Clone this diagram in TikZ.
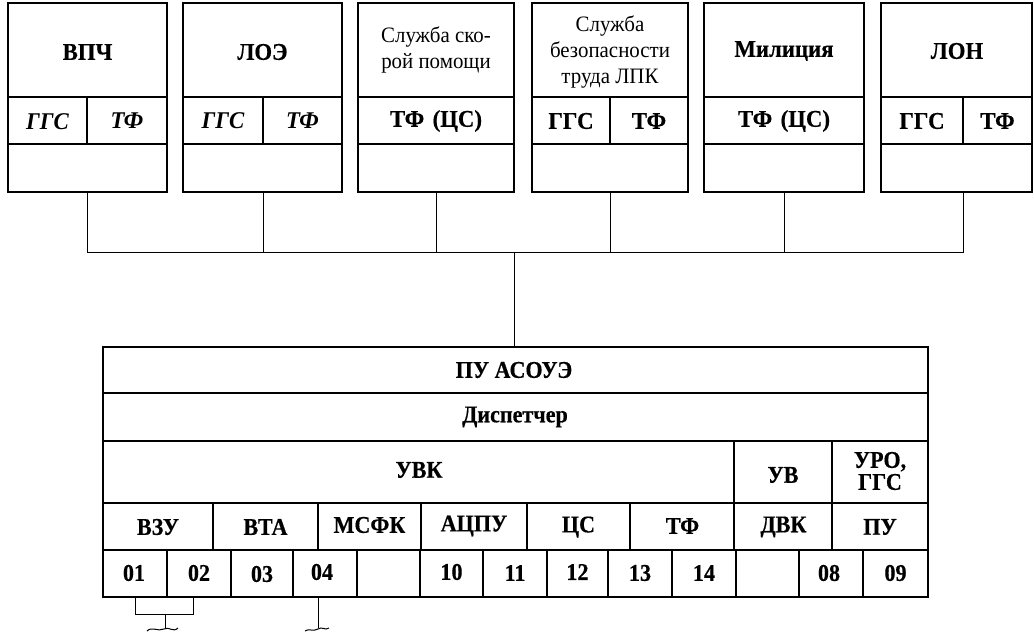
\documentclass[tikz,border=0pt]{standalone}
\usepackage{fontspec}
\setmainfont{Liberation Serif}
\newfontfamily\topf{Liberation Serif}[FakeStretch=0.95, BoldFeatures={FakeBold=0.4}]
\newfontfamily\botf{Liberation Serif}[FakeStretch=0.92, BoldFeatures={FakeBold=0.5}]
\begin{document}
\begin{tikzpicture}[x=1pt,y=-1pt,
  outer/.style={line width=2pt},
  inner/.style={line width=1.5pt},
  wire/.style={line width=1pt},
  lbl/.style={font=\topf\fontsize{24}{26}\selectfont\bfseries, align=center, inner sep=0pt},
  lblr/.style={font=\topf\fontsize{22}{26}\selectfont, align=center, inner sep=0pt},
  lbli/.style={font=\topf\fontsize{24}{26}\selectfont\bfseries\itshape, inner sep=0pt},
  tl/.style={font=\botf\fontsize{24}{24}\selectfont\bfseries, align=center, inner sep=0pt}]
\useasboundingbox (0,0) rectangle (1034,632);
% ---------- top boxes ----------
\foreach \l/\r in {8/167,183/342,358/514,532/688,704/864,881/1032}{
  \draw[outer] (\l,3) rectangle (\r,192);
  \draw[inner] (\l,97) -- (\r,97) (\l,144) -- (\r,144);
}
\foreach \d in {87,263,610,963}{ \draw[inner] (\d,97) -- (\d,144); }
\node[lbl] (n1) at (87.5,52) {ВПЧ};
\node[lbl] (n2) at (262.5,52) {ЛОЭ};
\node[lblr] (n3) at (436,50) {Служба ско-\\рой помощи};
\node[lblr] (n4) at (610,52) {Служба\\безопасности\\труда ЛПК};
\node[lbl] (n5) at (784,51) {Милиция};
\node[lbl] (n6) at (957,51) {ЛОН};
\node[lbli] (g1) at (47.5,122) {ГГС};
\node[lbli] (f1) at (127,121) {ТФ};
\node[lbli] (g2) at (223,121) {ГГС};
\node[lbli] (f2) at (302.5,121) {ТФ};
\node[lbl] (c3) at (436,121) {ТФ\hspace{0.35em}(ЦС)};
\node[lbl] (g4) at (571,121) {ГГС};
\node[lbl] (f4) at (649,121) {ТФ};
\node[lbl] (c5) at (784,121) {ТФ\hspace{0.35em}(ЦС)};
\node[lbl] (g6) at (922,121) {ГГС};
\node[lbl] (f6) at (997.5,121) {ТФ};
% ---------- connectors ----------
\coordinate (b1) at (87,192);
\coordinate (b2) at (263,192);
\coordinate (b3) at (436,192);
\coordinate (b4) at (610,192);
\coordinate (b5) at (784,192);
\coordinate (b6) at (963,192);
\coordinate (bus) at (514,252);
\coordinate (tt) at (514,347);
\draw[wire] (b1) -- (b1 |- bus) -- (b6 |- bus) -- (b6);
\foreach \b in {b2,b3,b4,b5}{ \draw[wire] (\b) -- (\b |- bus); }
\draw[wire] (bus) -- (tt);
% ---------- bottom table ----------
\draw[outer] (103,347) rectangle (928,597);
\foreach \y in {393,441,503,550}{ \draw[inner] (103,\y) -- (928,\y); }
\foreach \x in {734,832}{ \draw[inner] (\x,441) -- (\x,550); }
\foreach \x in {213,318,421,527,630}{ \draw[inner] (\x,503) -- (\x,550); }
\foreach \x in {167,231,293,357,420,483,547,608,672,736,799,863}{ \draw[inner] (\x,550) -- (\x,597); }
\node[tl] (pu) at (514,370) {ПУ АСОУЭ};
\node[tl] (disp) at (515,417) {Диспетчер};
\node[tl] (uvk) at (419,470) {УВК};
\node[tl] (uv) at (783,475) {УВ};
\node[tl, font=\botf\fontsize{24}{22}\selectfont\bfseries] (uro) at (880,471) {УРО,\\ГГС};
\node[tl] (vzu) at (158,527) {ВЗУ};
\node[tl] (vta) at (265.5,527) {ВТА};
\node[tl] (msfk) at (369.5,525) {МСФК};
\node[tl] (acpu) at (474,526) {АЦПУ};
\node[tl] (cs) at (578.5,527) {ЦС};
\node[tl] (tf) at (682.5,526) {ТФ};
\node[tl] (dvk) at (783.5,527) {ДВК};
\node[tl] (pu2) at (880,527) {ПУ};
\node[tl] (k01) at (134,573) {01};
\node[tl] (k02) at (199,573) {02};
\node[tl] (k03) at (262,574) {03};
\node[tl] (k04) at (322,572) {04};
\node[tl] (k10) at (451.5,572) {10};
\node[tl] (k11) at (515,573) {11};
\node[tl] (k12) at (577.5,572) {12};
\node[tl] (k13) at (640,573) {13};
\node[tl] (k14) at (704,573) {14};
\node[tl] (k08) at (829,573) {08};
\node[tl] (k09) at (895.5,573) {09};
% ---------- outputs ----------
\coordinate (o1) at (135,597);
\coordinate (o2) at (193,597);
\coordinate (o3) at (318,597);
\coordinate (j1) at (165,614);
\coordinate (e1) at (165,629);
\coordinate (e3) at (318,628);
\draw[wire] (o1) -- (o1 |- j1) -- (o2 |- j1) -- (o2);
\draw[wire] (j1) -- (e1);
\draw[wire] (o3) -- (e3);
\draw[wire] (147,631) .. controls (152,626) and (158,632) .. (164,629)
  .. controls (169,626) and (173,633) .. (178,628);
\draw[wire] (305,631) .. controls (309,628) and (313,632) .. (318,629)
  .. controls (322,626) and (325,631) .. (329,628);
\end{tikzpicture}
\end{document}
